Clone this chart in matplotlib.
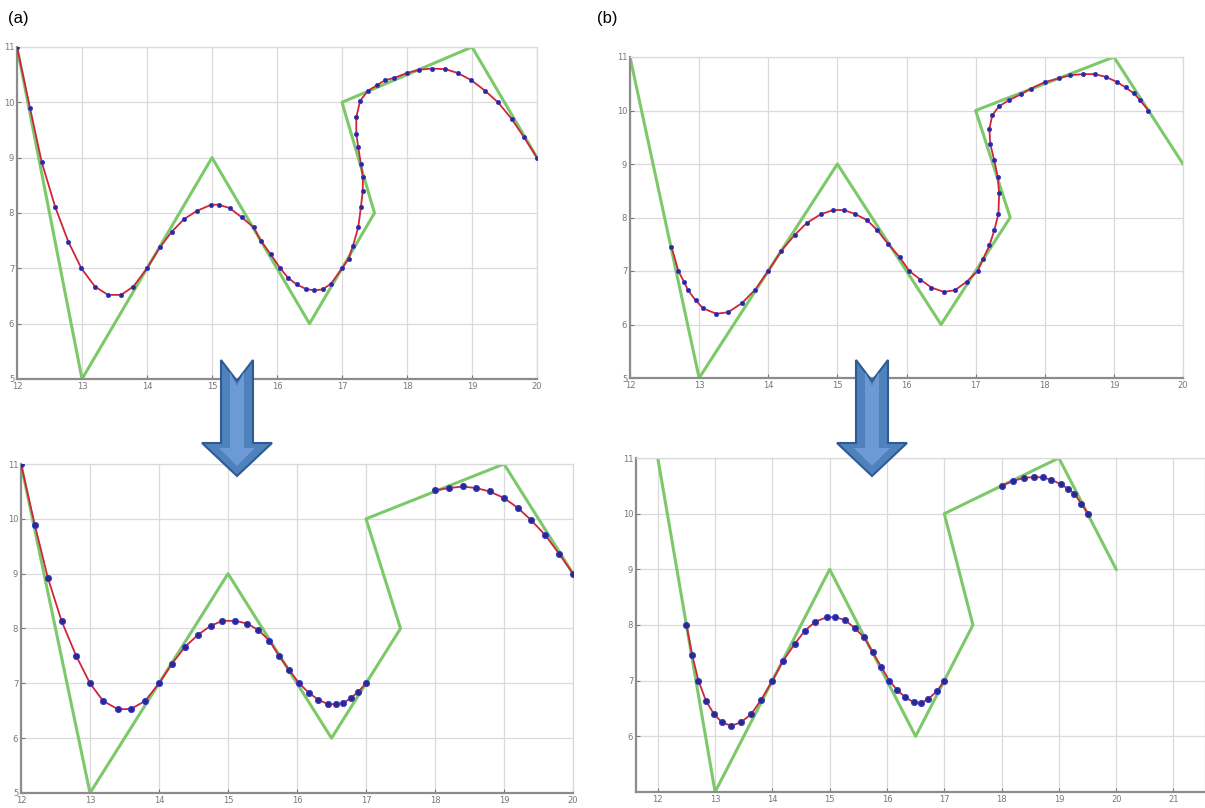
import numpy as np
import matplotlib
matplotlib.use("Agg")
import matplotlib.pyplot as plt
from matplotlib.patches import Polygon

# control polygon (same in all four panels)
poly_x = [12, 13, 15, 16.5, 17.5, 17, 19, 20]
poly_y = [11, 5, 9, 6, 8, 10, 11, 9]

# (a) top: full curve
a_x = [12.0, 12.2, 12.38, 12.59, 12.79, 12.99, 13.2, 13.4, 13.6, 13.79, 14.0, 14.2, 14.38,
       14.57, 14.77, 14.99, 15.1, 15.27, 15.46, 15.64, 15.75, 15.9, 16.05, 16.17, 16.3,
       16.44, 16.57, 16.7, 16.83, 17.0, 17.1, 17.17, 17.25, 17.29, 17.32, 17.32, 17.29,
       17.25, 17.22, 17.22, 17.28, 17.4, 17.54, 17.66, 17.8, 18.0, 18.19, 18.38, 18.59,
       18.78, 18.99, 19.2, 19.4, 19.61, 19.8, 20.0]
a_y = [11.0, 9.9, 8.92, 8.1, 7.48, 7.0, 6.67, 6.52, 6.52, 6.67, 7.0, 7.38, 7.66,
       7.89, 8.04, 8.15, 8.15, 8.09, 7.92, 7.74, 7.5, 7.26, 7.0, 6.83, 6.71,
       6.63, 6.6, 6.62, 6.72, 7.0, 7.17, 7.41, 7.74, 8.1, 8.4, 8.65, 8.89,
       9.19, 9.43, 9.73, 10.03, 10.21, 10.31, 10.4, 10.44, 10.53, 10.59, 10.61, 10.6,
       10.53, 10.4, 10.21, 10.0, 9.7, 9.37, 9.0]

# (b) top: curve starting/ending inside the polygon
b_x = [12.6, 12.7, 12.78, 12.84, 12.95, 13.06, 13.25, 13.42, 13.62, 13.81, 14.0, 14.19,
       14.38, 14.56, 14.76, 14.94, 15.09, 15.25, 15.43, 15.58, 15.73, 15.9, 16.04, 16.2,
       16.36, 16.54, 16.7, 16.87, 17.03, 17.11, 17.2, 17.27, 17.33, 17.34, 17.32, 17.27,
       17.21, 17.2, 17.24, 17.34, 17.48, 17.65, 17.8, 18.0, 18.2, 18.37, 18.55, 18.72,
       18.88, 19.05, 19.17, 19.29, 19.38, 19.5]
b_y = [7.45, 7.0, 6.8, 6.64, 6.45, 6.3, 6.2, 6.23, 6.4, 6.65, 7.0, 7.38,
       7.67, 7.9, 8.06, 8.14, 8.14, 8.07, 7.95, 7.76, 7.51, 7.26, 7.0, 6.84,
       6.69, 6.61, 6.64, 6.8, 7.0, 7.23, 7.48, 7.76, 8.07, 8.45, 8.76, 9.07,
       9.38, 9.66, 9.91, 10.08, 10.19, 10.3, 10.41, 10.53, 10.6, 10.66, 10.68, 10.68,
       10.63, 10.53, 10.43, 10.32, 10.19, 10.0]

# (a) bottom: two pieces
c_x1 = [12.0, 12.2, 12.39, 12.59, 12.8, 13.0, 13.19, 13.4, 13.59, 13.8, 14.0, 14.19, 14.38,
        14.57, 14.75, 14.92, 15.1, 15.28, 15.44, 15.6, 15.74, 15.89, 16.03, 16.17, 16.31,
        16.45, 16.56, 16.67, 16.78, 16.89, 17.0]
c_y1 = [11.0, 9.89, 8.92, 8.13, 7.5, 7.0, 6.68, 6.53, 6.53, 6.68, 7.0, 7.36, 7.67,
        7.89, 8.05, 8.14, 8.14, 8.09, 7.97, 7.78, 7.5, 7.24, 7.0, 6.83, 6.7,
        6.62, 6.62, 6.64, 6.73, 6.85, 7.0]
c_x2 = [18.0, 18.2, 18.4, 18.6, 18.79, 19.0, 19.2, 19.39, 19.6, 19.8, 20.0]
c_y2 = [10.52, 10.56, 10.59, 10.56, 10.5, 10.38, 10.2, 9.98, 9.7, 9.36, 9.0]

# (b) bottom: two pieces
d_x1 = [12.5, 12.6, 12.71, 12.84, 12.98, 13.12, 13.28, 13.45, 13.63, 13.8, 14.0, 14.19,
        14.39, 14.57, 14.75, 14.95, 15.1, 15.27, 15.44, 15.6, 15.75, 15.9, 16.04, 16.18,
        16.32, 16.47, 16.6, 16.72, 16.88, 17.0]
d_y1 = [8.0, 7.46, 7.0, 6.64, 6.4, 6.25, 6.19, 6.25, 6.4, 6.65, 7.0, 7.36,
        7.66, 7.9, 8.06, 8.14, 8.14, 8.09, 7.94, 7.78, 7.51, 7.25, 7.0, 6.83,
        6.7, 6.61, 6.6, 6.67, 6.82, 7.0]
d_x2 = [18.0, 18.2, 18.39, 18.57, 18.72, 18.87, 19.03, 19.16, 19.27, 19.39, 19.51]
d_y2 = [10.5, 10.59, 10.64, 10.66, 10.65, 10.61, 10.53, 10.45, 10.36, 10.18, 10.0]

W, H = 1205, 808
GREEN = '#7cc96a'
RED = '#d0243a'
DOT = '#2a2a8c'


def px_axes(fig, left, right, top, bottom):
    """axes placed by pixel edges"""
    return fig.add_axes([left / W, 1 - bottom / H, (right - left) / W, (bottom - top) / H])


def style_axes(ax, xlim, ylim, xticks, yticks, ylabels=None):
    ax.set_xlim(*xlim)
    ax.set_ylim(*ylim)
    ax.set_xticks(xticks)
    ax.set_yticks(yticks)
    if ylabels is not None:
        ax.set_yticklabels(ylabels)
    ax.grid(True, color='#dadada', lw=0.9)
    ax.set_axisbelow(True)
    ax.tick_params(direction='in', length=3, labelsize=6, colors='#777777', pad=2)
    for s in ['left', 'bottom']:
        ax.spines[s].set_color('#8c8c8c')
        ax.spines[s].set_linewidth(1.6)
    for s in ['top', 'right']:
        ax.spines[s].set_color('#dadada')
        ax.spines[s].set_linewidth(0.9)


def draw_curve(ax, xs, ys, ms):
    ax.plot(xs, ys, color=RED, lw=1.3, zorder=3)
    ax.plot(xs, ys, ls='none', marker='o', ms=ms, color=DOT, mec='#3a3ad0', mew=0.6, zorder=4)


def block_arrow(fig, cx):
    # down arrow with notched top, pixel coordinates
    pts = [(cx - 16, 360), (cx, 381), (cx + 16, 360), (cx + 16, 443), (cx + 35, 443),
           (cx, 476), (cx - 35, 443), (cx - 16, 443)]
    pts = [(x / W, 1 - y / H) for x, y in pts]
    fig.add_artist(Polygon(pts, closed=True, transform=fig.transFigure,
                           facecolor='#4f81bd', edgecolor='#2f5b94', lw=1.5, zorder=10))
    inner = [(cx - 7, 372), (cx, 386), (cx + 7, 372), (cx + 7, 448), (cx + 18, 448),
             (cx, 466), (cx - 18, 448), (cx - 7, 448)]
    inner = [(x / W, 1 - y / H) for x, y in inner]
    fig.add_artist(Polygon(inner, closed=True, transform=fig.transFigure,
                           facecolor='#6b9ad4', edgecolor='none', zorder=11))


fig = plt.figure(figsize=(W / 100, H / 100), dpi=100)

ax1 = px_axes(fig, 17, 537, 47, 379)
style_axes(ax1, (12, 20), (5, 11), range(12, 21), range(5, 12))
ax1.plot(poly_x, poly_y, color=GREEN, lw=2.2, zorder=2)
draw_curve(ax1, a_x, a_y, 3)

ax2 = px_axes(fig, 630, 1183, 57, 378)
style_axes(ax2, (12, 20), (5, 11), range(12, 21), range(5, 12))
ax2.plot(poly_x, poly_y, color=GREEN, lw=2.2, zorder=2)
draw_curve(ax2, b_x, b_y, 3)

ax3 = px_axes(fig, 21, 573, 464, 793)
style_axes(ax3, (12, 20), (5, 11), range(12, 21), range(5, 12))
ax3.plot(poly_x, poly_y, color=GREEN, lw=2.2, zorder=2)
draw_curve(ax3, c_x1, c_y1, 4.5)
draw_curve(ax3, c_x2, c_y2, 4.5)

ax4 = px_axes(fig, 636, 1205, 458, 792)
style_axes(ax4, (11.62, 21.55), (5, 11), range(12, 22), range(6, 12))
ax4.plot(poly_x, poly_y, color=GREEN, lw=2.2, zorder=2)
draw_curve(ax4, d_x1, d_y1, 4.5)
draw_curve(ax4, d_x2, d_y2, 4.5)

block_arrow(fig, 237)
block_arrow(fig, 872)

fig.text(8 / W, 1 - 19 / H, '(a)', fontsize=12, family='Liberation Sans', va='center')
fig.text(597 / W, 1 - 19 / H, '(b)', fontsize=12, family='Liberation Sans', va='center')

fig.savefig('out.png', dpi=100)
